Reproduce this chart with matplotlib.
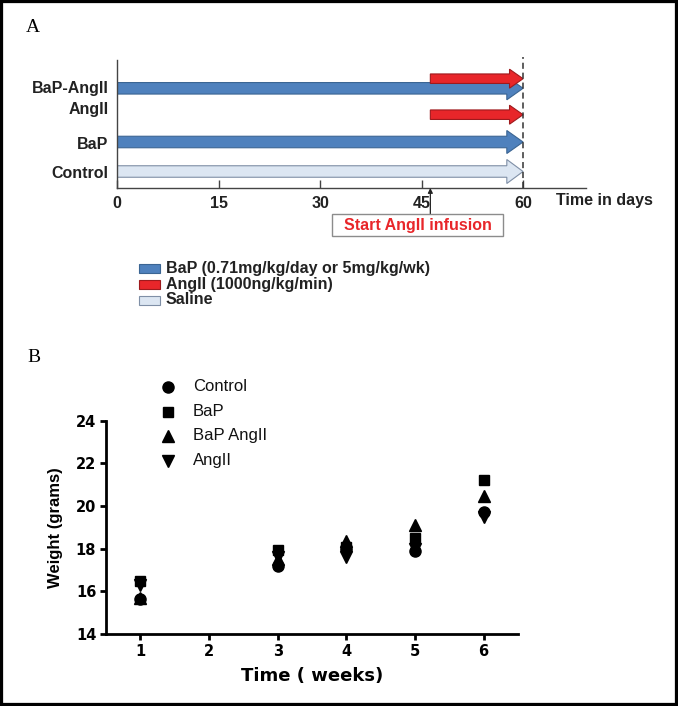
import matplotlib
matplotlib.use("Agg")
import matplotlib.pyplot as plt
from matplotlib.patches import FancyArrow, Rectangle
from matplotlib.lines import Line2D

plt.rcParams['font.family'] = ['Liberation Sans', 'DejaVu Sans']

# ---------------- Panel A data (study design) ----------------
groups = ["BaP-AngII", "AngII", "BaP", "Control"]
arrow_group = ["BaP-AngII", "BaP-AngII", "AngII", "BaP", "Control"]
arrow_treatment = ["BaP", "AngII", "AngII", "BaP", "Saline"]
arrow_start = [0, 46.3, 46.3, 0, 0]
arrow_end = [60, 60, 60, 60, 60]
day_ticks = [0, 15, 30, 45, 60]
infusion_day = 46.3
legend_treatments = ["BaP", "AngII", "Saline"]
legend_texts = ["BaP (0.71mg/kg/day or 5mg/kg/wk)", "AngII (1000ng/kg/min)", "Saline"]

# ---------------- Panel B data (body weight) ----------------
weeks = [1, 3, 4, 5, 6]
week_ticks = [1, 2, 3, 4, 5, 6]
weight_ticks = [14, 16, 18, 20, 22, 24]
series_names = ["Control", "BaP", "BaP AngII", "AngII"]
control = [15.64, 17.19, 18.0, 17.9, 19.73]
bap = [16.5, 17.94, 18.1, 18.5, 21.24]
bap_angii = [15.7, 17.5, 18.38, 19.13, 20.47]
angii = [16.3, 17.6, 17.62, 18.0, 19.5]

W, H = 678, 706
fig = plt.figure(figsize=(W / 100, H / 100), dpi=100)
fig.patch.set_facecolor("white")

def fx(px):
    return px / W

def fy(py):
    return 1 - py / H

# ================= Panel A =================
axA = fig.add_axes([fx(117), fy(188), (586 - 117) / W, (188 - 60) / H])
axA.set_xlim(0, 69.3)
axA.set_ylim(188, 60)  # vertical layout units (top-down)

row_y = {"BaP-AngII": 88.3, "AngII": 114.7, "BaP": 142.0, "Control": 171.5}
label_y = [87.3, 108.3, 143.3, 172.3]
styles = {
    "BaP": dict(fc="#4F81BD", ec="#3B6593", width=11.5, head_width=23, head_length=2.4, z=2),
    "AngII": dict(fc="#E8262A", ec="#9E1A1D", width=9.5, head_width=19, head_length=2.0, z=3),
    "Saline": dict(fc="#DCE6F2", ec="#7F8FA6", width=11.5, head_width=24, head_length=2.4, z=2),
}
for g, t, s, e in zip(arrow_group, arrow_treatment, arrow_start, arrow_end):
    st = styles[t]
    y = row_y[g] - (9.6 if (g == "BaP-AngII" and t == "AngII") else 0)
    arr = FancyArrow(s, y, e - s, 0, width=st["width"], head_width=st["head_width"],
                     head_length=st["head_length"], length_includes_head=True,
                     fc=st["fc"], ec=st["ec"], lw=0.8, zorder=st["z"])
    axA.add_patch(arr)

axA.axvline(60, ymin=0, ymax=1.02, color="#333333", ls=(0, (4, 2.5)), lw=1.1,
            clip_on=False, zorder=4)

for sp in ["top", "right"]:
    axA.spines[sp].set_visible(False)
for sp in ["left", "bottom"]:
    axA.spines[sp].set_color("#444444")
    axA.spines[sp].set_linewidth(1.0)

axA.set_xticks(day_ticks)
axA.set_xticklabels([str(d) for d in day_ticks], fontsize=11.5, fontweight="bold", color="#222222")
axA.tick_params(axis="x", direction="in", length=6, width=1, color="#444444", pad=6)
axA.set_yticks(label_y)
axA.set_yticklabels(groups, fontsize=11.5, fontweight="bold", color="#222222")
axA.tick_params(axis="y", length=0, pad=6)

fig.text(fx(556), fy(200), "Time in days", fontsize=11.5, fontweight="bold",
         color="#222222", ha="left", va="center")

# infusion arrow and box
axA.annotate("", xy=(infusion_day, 188), xytext=(infusion_day, 214),
             arrowprops=dict(arrowstyle="-|>", color="#222222", lw=0.9, mutation_scale=7,
                             shrinkA=0, shrinkB=0),
             annotation_clip=False)
fig.add_artist(Rectangle((fx(332), fy(236)), (503 - 332) / W, (236 - 214) / H,
                         transform=fig.transFigure, fill=False, ec="#8C8C8C", lw=1.0))
fig.text(fx(417.5), fy(225.5), "Start AngII infusion", fontsize=11.5, fontweight="bold",
         color="#E8262A", ha="center", va="center")

# legend A
leg_rows = [268.3, 284.3, 300.0]
for t, txt, yy in zip(legend_treatments, legend_texts, leg_rows):
    st = styles[t]
    fig.add_artist(Rectangle((fx(139), fy(yy + 4.5)), 21 / W, 9 / H, transform=fig.transFigure,
                             fc=st["fc"], ec=st["ec"], lw=0.8))
    fig.text(fx(165.6), fy(yy), txt, fontsize=11.5, fontweight="bold", color="#222222",
             ha="left", va="center")

# panel letters
fig.text(fx(33), fy(27), "A", fontsize=14, family="Liberation Serif", ha="center", va="center")
fig.text(fx(33.5), fy(358), "B", fontsize=14, family="Liberation Serif", ha="center", va="center")

# ================= Panel B =================
axB = fig.add_axes([fx(106), fy(634), (518 - 106) / W, (634 - 420.7) / H])
markers = ["o", "s", "^", "v"]
sizes = [8, 7, 8, 8]
for name, vals, m, ms in zip(series_names, [control, bap, bap_angii, angii], markers, sizes):
    axB.plot(weeks, vals, ls="none", marker=m, ms=ms, color="black", label=name)

axB.set_xlim(0.5, 6.5)
axB.set_ylim(14, 24)
axB.set_xticks(week_ticks)
axB.set_yticks(weight_ticks)
for sp in ["top", "right"]:
    axB.spines[sp].set_visible(False)
for sp in ["left", "bottom"]:
    axB.spines[sp].set_linewidth(2)
axB.tick_params(axis="both", direction="out", length=4.5, width=2, pad=2.5)
for lab in axB.get_xticklabels() + axB.get_yticklabels():
    lab.set_family("DejaVu Sans")
    lab.set_fontweight("bold")
    lab.set_fontsize(10.5)
axB.set_xlabel("Time ( weeks)", family="DejaVu Sans", fontweight="bold", fontsize=13, labelpad=6)
axB.set_ylabel("Weight (grams)", fontweight="bold", fontsize=12, labelpad=9)

# legend B
legB_rows = [386.7, 411.7, 435.7, 461.0]
for name, m, ms, yy in zip(series_names, markers, sizes, legB_rows):
    fig.add_artist(Line2D([fx(168)], [fy(yy)], transform=fig.transFigure, ls="none",
                          marker=m, ms=ms, color="black"))
    fig.text(fx(192.7), fy(yy), name, fontsize=12, color="#111111", ha="left", va="center")

# outer frame
fig.add_artist(Rectangle((0, 0), 1, 1, transform=fig.transFigure, fill=False,
                         ec="black", lw=4.5))

fig.savefig("out.png", dpi=100)
